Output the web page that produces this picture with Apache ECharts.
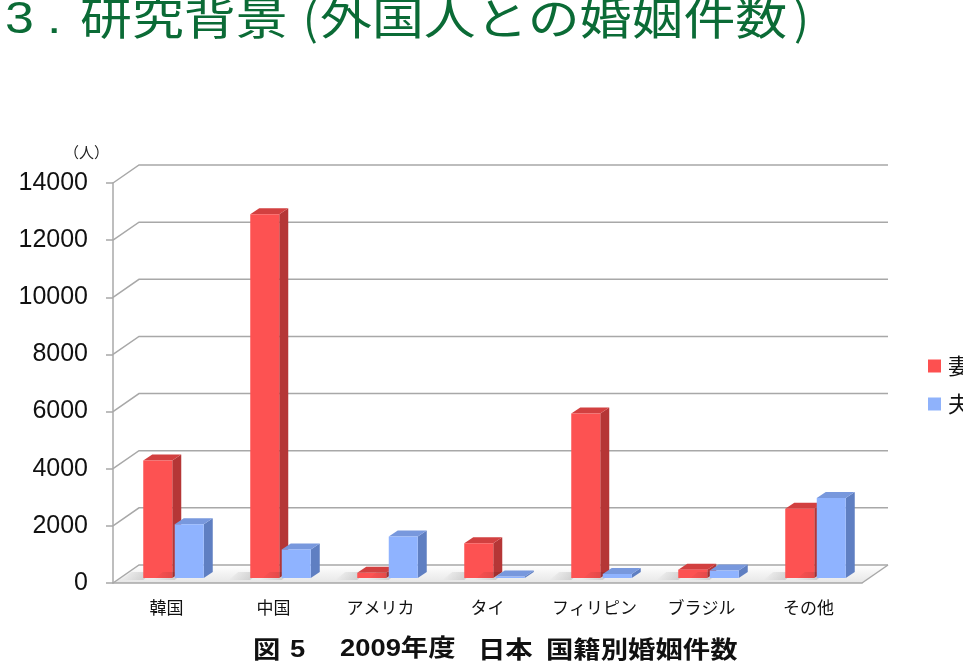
<!DOCTYPE html>
<html>
<head>
<meta charset="utf-8">
<script src="https://cdn.jsdelivr.net/npm/echarts@6/dist/echarts.min.js"></script>
<style>
  html, body { margin: 0; padding: 0; background: #fff; }
  #chart { width: 963px; height: 669px; }
</style>
</head>
<body>
<div id="chart"></div>
<script>
// 国籍別婚姻件数（2009年度）
const categories = ['韓国', '中国', 'アメリカ', 'タイ', 'フィリピン', 'ブラジル', 'その他'];
const wifeValues = [4110, 12730, 180, 1220, 5760, 290, 2420];      // 妻
const husbandValues = [1880, 1000, 1450, 50, 140, 260, 2800];     // 夫
const yTicks = [0, 2000, 4000, 6000, 8000, 10000, 12000, 14000];

// 奥行き（疑似3D）
const DEPTH_X = 26, DEPTH_Y = 18;
const BAR_W = 29, BAR_GAP = 2.5, BAR_DX = 9, BAR_DY = 6;
const FACE_X = 7, FACE_Y = 5;

const CJK = "'Noto Sans CJK JP', sans-serif";
const LATIN = "'Liberation Sans', 'Noto Sans CJK JP', sans-serif";

const chart = echarts.init(document.getElementById('chart'));

function gridItem(params, api) {
  const cs = params.coordSys;
  const v = api.value(1);
  const y = api.coord([0, v])[1];
  const L = cs.x, R = cs.x + cs.width;
  const children = [];
  if (v === 0) {
    children.push({
      type: 'polygon',
      shape: { points: [[L, y], [R, y], [R + DEPTH_X, y - DEPTH_Y], [L + DEPTH_X, y - DEPTH_Y]] },
      style: {
        fill: new echarts.graphic.LinearGradient(0, 0, 0, 1, [
          { offset: 0, color: '#ffffff' },
          { offset: 1, color: '#e6e6e6' }
        ])
      }
    });
    children.push({
      type: 'line',
      shape: { x1: R, y1: y, x2: R + DEPTH_X, y2: y - DEPTH_Y },
      style: { stroke: '#a8a8a8', lineWidth: 1.5 }
    });
  }
  children.push({
    type: 'polyline',
    shape: { points: [[L, y], [L + DEPTH_X, y - DEPTH_Y], [R + DEPTH_X, y - DEPTH_Y]] },
    style: { stroke: '#a8a8a8', lineWidth: 1.5, fill: null }
  });
  return { type: 'group', children: children };
}

function barItem(slot, front, side, top) {
  return function (params, api) {
    const cat = api.value(0), v = api.value(1);
    const base = api.coord([cat, 0]);
    const head = api.coord([cat, v]);
    const x0 = base[0] + FACE_X - BAR_W - BAR_GAP / 2 + slot * (BAR_W + BAR_GAP);
    const x1 = x0 + BAR_W;
    const yb = base[1] - FACE_Y;
    const yt = Math.min(head[1] - FACE_Y, yb - 1);
    return {
      type: 'group',
      children: [
        {
          type: 'polygon',
          shape: { points: [[x0 - 22, yb + 2], [x0, yb + 2], [x0 + BAR_DX, yb - BAR_DY], [x0 - 12, yb - BAR_DY]] },
          style: {
            fill: new echarts.graphic.LinearGradient(1, 0, 0, 0, [
              { offset: 0, color: 'rgba(0,0,0,0.16)' },
              { offset: 1, color: 'rgba(0,0,0,0)' }
            ])
          }
        },
        {
          type: 'polygon',
          shape: { points: [[x1, yt], [x1 + BAR_DX, yt - BAR_DY], [x1 + BAR_DX, yb - BAR_DY], [x1, yb]] },
          style: { fill: side }
        },
        {
          type: 'polygon',
          shape: { points: [[x0, yt], [x0 + BAR_DX, yt - BAR_DY], [x1 + BAR_DX, yt - BAR_DY], [x1, yt]] },
          style: { fill: top }
        },
        {
          type: 'rect',
          shape: { x: x0, y: yt, width: BAR_W, height: yb - yt },
          style: { fill: front }
        }
      ]
    };
  };
}

// 見出し・キャプション（横に少し伸ばした文字）
function label(text, x, y, size, color, font, sx, bold) {
  return {
    type: 'text', x: x, y: y, scaleX: sx,
    style: { text: text, fill: color, fontSize: size, fontFamily: font, fontWeight: bold ? 'bold' : 'normal' }
  };
}

const option = {
  animation: false,
  textStyle: { fontFamily: LATIN },
  legend: {
    data: ['妻', '夫'],
    orient: 'vertical',
    left: 923,
    top: 350,
    icon: 'rect',
    itemWidth: 13,
    itemHeight: 13,
    itemGap: 16,
    textStyle: { fontSize: 22, color: '#111', fontFamily: CJK, padding: [0, 0, 0, 2] }
  },
  grid: { left: 113, right: 101, top: 183, bottom: 86 },
  xAxis: {
    type: 'category',
    data: categories,
    z: 5,
    axisLine: { lineStyle: { color: '#a8a8a8', width: 1.5 } },
    axisTick: { length: 6, lineStyle: { color: '#a8a8a8', width: 1.5 } },
    axisLabel: { interval: 0, margin: 16, fontSize: 17, color: '#111', fontFamily: CJK }
  },
  yAxis: {
    type: 'value',
    min: 0,
    max: 14000,
    interval: 2000,
    z: 5,
    axisLine: { show: true, lineStyle: { color: '#a8a8a8', width: 1.5 } },
    axisTick: { show: true, length: 7, lineStyle: { color: '#a8a8a8', width: 1.5 } },
    axisLabel: { margin: 25, fontSize: 25, color: '#111', formatter: v => String(v) },
    splitLine: { show: false }
  },
  series: [
    {
      name: 'grid',
      type: 'custom',
      z: 1,
      silent: true,
      renderItem: gridItem,
      data: yTicks.map(v => [0, v])
    },
    {
      name: '妻',
      type: 'custom',
      z: 3,
      itemStyle: { color: '#fd5050' },
      renderItem: barItem(0, '#fd5252', '#b53636', '#d24040'),
      data: wifeValues.map((v, i) => [i, v])
    },
    {
      name: '夫',
      type: 'custom',
      z: 3,
      itemStyle: { color: '#8fb2fb' },
      renderItem: barItem(1, '#8fb3ff', '#5f7fc2', '#7898dd'),
      data: husbandValues.map((v, i) => [i, v])
    }
  ],
  graphic: [
    label('3', 5, -1, 44, '#0b6b36', LATIN, 1.18),
    label('.', 47, -1, 44, '#0b6b36', LATIN, 1.18),
    label('研究背景', 80, -4, 44, '#0b6b36', CJK, 1.18),
    label('(', 303, -4, 44, '#0b6b36', CJK, 1.0),
    label('外国人との婚姻件数', 320, -4, 44, '#0b6b36', CJK, 1.18),
    label(')', 794, -4, 44, '#0b6b36', CJK, 1.0),
    label('（人）', 64, 145, 15, '#222', CJK, 1.0),
    label('図', 253, 637, 24, '#111', CJK, 1.14, true),
    label('5', 290, 638, 24, '#111', LATIN, 1.14, true),
    label('2009年度', 340, 637, 24, '#111', LATIN, 1.14, true),
    label('日本', 478, 637, 24, '#111', CJK, 1.14, true),
    label('国籍別婚姻件数', 546, 637, 24, '#111', CJK, 1.14, true)
  ]
};

chart.setOption(option);
</script>
</body>
</html>
